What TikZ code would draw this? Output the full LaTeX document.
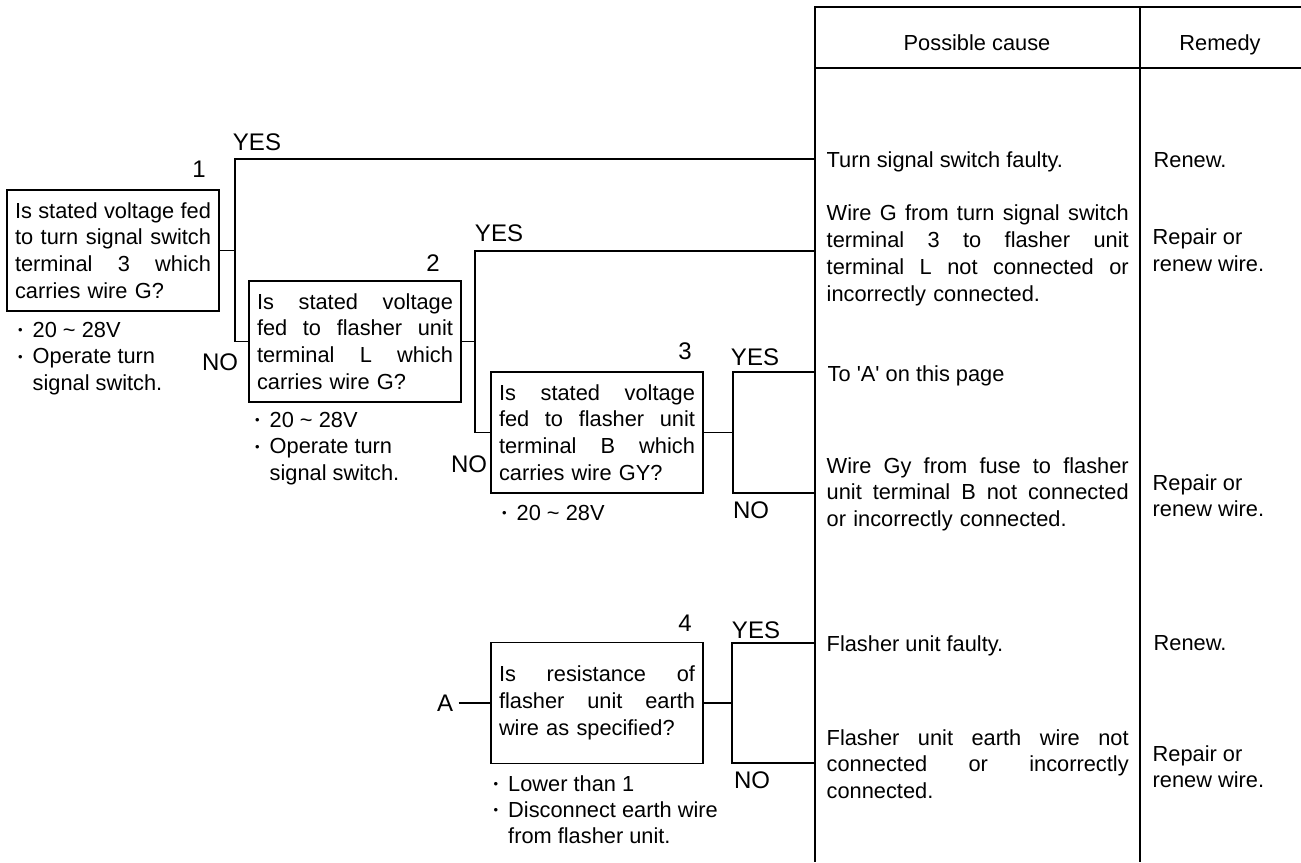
\documentclass[tikz,border=0pt]{standalone}
\usepackage{fontspec}
\newfontfamily\lsans{Liberation Sans}
\newcommand\fnttxt{\lsans\fontsize{21.8}{26.8}\selectfont}
\newcommand\fntnote{\lsans\fontsize{21.8}{26.3}\selectfont}
\newcommand\fntlbl{\lsans\fontsize{24}{28}\selectfont}
% justified lines (words split by \wsp) of the question boxes and of the cause column
\newcommand\jq[1]{\makebox[196pt][s]{#1}\\}
\newcommand\jc[1]{\makebox[302pt][s]{#1}\\}
\newcommand\wsp{\hfill}
\newcommand\notebullet{\makebox[14.5pt][l]{\fontsize{13}{13}\selectfont\raisebox{2.6pt}{•}}}
\newcommand\noteindent{\hspace*{14.5pt}}
\begin{document}
\begin{tikzpicture}[x=1pt, y=-1pt, line width=1.4pt,
  qbox/.style={draw, rectangle, minimum height=121pt, text width=196pt,
    inner xsep=8pt, inner ysep=0pt, align=left, font=\fnttxt},
  blk/.style={anchor=north west, inner sep=0pt, align=left, font=\fnttxt},
  note/.style={anchor=north west, inner sep=0pt, align=left, font=\fntnote},
  lab/.style={inner sep=0pt, font=\fntlbl}]
\useasboundingbox (0,0) rectangle (1301,862);

% table frame
\draw (1301,7) -- (815,7) -- (815,862);
\draw (815,68) -- (1301,68);
\draw (1140,7) -- (1140,862);
\node[lab, font=\fnttxt, anchor=base] (hcause) at (977,50) {Possible cause};
\node[lab, font=\fnttxt, anchor=base] (hremedy) at (1220,50) {Remedy};

% question boxes
\node[qbox] (q1) at (113,250.5) {\jq{Is\wsp stated\wsp voltage\wsp fed}\jq{to\wsp turn\wsp signal\wsp switch}\jq{terminal\wsp 3\wsp which}carries wire G?};
\node[qbox] (q2) at (355,341.5) {\jq{Is\wsp stated\wsp voltage}\jq{fed\wsp to\wsp flasher\wsp unit}\jq{terminal\wsp L\wsp which}carries wire G?};
\node[qbox] (q3) at (597,432.5) {\jq{Is\wsp stated\wsp voltage}\jq{fed\wsp to\wsp flasher\wsp unit}\jq{terminal\wsp B\wsp which}carries wire GY?};
\node[qbox] (q4) at (597,703) {\jq{Is\wsp resistance\wsp of}\jq{flasher\wsp unit\wsp earth}wire as specified?};

% step numbers
\node[lab] (n1) at (199,169) {1};
\node[lab] (n2) at (433,263) {2};
\node[lab] (n3) at (685,351) {3};
\node[lab] (n4) at (685,623) {4};

% test conditions
\node[note] (t1) at (17.5,321.5) {\notebullet 20 \textasciitilde\ 28V\\\notebullet Operate turn\\\noteindent signal switch.};
\node[note] (t2) at (254.5,411.5) {\notebullet 20 \textasciitilde\ 28V\\\notebullet Operate turn\\\noteindent signal switch.};
\node[note] (t3) at (501.5,504.5) {\notebullet 20 \textasciitilde\ 28V};
\node[note] (t4) at (493,774.5) {\notebullet Lower than 1\\\notebullet Disconnect earth wire\\\noteindent from flasher unit.};

% branch points and row ends
\coordinate (j1) at (235,250.5);
\coordinate (j2) at (475,341.5);
\coordinate (j3) at (733,432.5);
\coordinate (j4) at (732,703);
\coordinate (r1) at (815,159);
\coordinate (r2) at (815,251);
\coordinate (r3) at (815,372);
\coordinate (r4) at (815,493);
\coordinate (r5) at (815,643);
\coordinate (r6) at (815,763);

% connectors
\draw (q1.east) -- (j1);
\draw (q2.west) -| (j1 |- r1) -- (r1);
\draw (q2.east) -- (j2);
\draw (q3.west) -| (j2 |- r2) -- (r2);
\draw (q3.east) -- (j3);
\draw (r3) -| (j3 |- r4) -- (r4);
\draw (q4.east) -- (j4);
\draw (r5) -| (j4 |- r6) -- (r6);
\node[lab, inner xsep=5pt] (A) at (445,703) {A};
\draw (A.east) -- (q4.west);

% YES / NO labels
\node[lab] (y1) at (257,142) {YES};
\node[lab] (o1) at (220,362) {NO};
\node[lab] (y2) at (499,233) {YES};
\node[lab] (o2) at (469,464) {NO};
\node[lab] (y3) at (755,357) {YES};
\node[lab] (o3) at (751,510) {NO};
\node[lab] (y4) at (756,630) {YES};
\node[lab] (o4) at (752,780) {NO};

% possible causes
\node[blk] (c1) at (826,151.5) {Turn signal switch faulty.};
\node[blk, text width=302pt] (c2) at (826,204.5) {\jc{Wire\wsp G\wsp from\wsp turn\wsp signal\wsp switch}\jc{terminal\wsp 3\wsp to\wsp flasher\wsp unit}\jc{terminal\wsp L\wsp not\wsp connected\wsp or}incorrectly connected.};
\node[blk] (c3) at (827,364.5) {To 'A' on this page};
\node[blk, text width=302pt] (c4) at (826,456.5) {\jc{Wire\wsp Gy\wsp from\wsp fuse\wsp to\wsp flasher}\jc{unit\wsp terminal\wsp B\wsp not\wsp connected}or incorrectly connected.};
\node[blk] (c5) at (826,634.5) {Flasher unit faulty.};
\node[blk, text width=302pt] (c6) at (826,728.5) {\jc{Flasher\wsp unit\wsp earth\wsp wire\wsp not}\jc{connected\wsp or\wsp incorrectly}connected.};

% remedies
\node[blk] (m1) at (1153,151.5) {Renew.};
\node[blk, font=\fntnote] (m2) at (1152,228.5) {Repair or\\renew wire.};
\node[blk, font=\fntnote] (m4) at (1152,473.5) {Repair or\\renew wire.};
\node[blk] (m5) at (1153,634.5) {Renew.};
\node[blk, font=\fntnote] (m6) at (1152,744.5) {Repair or\\renew wire.};
\end{tikzpicture}
\end{document}
